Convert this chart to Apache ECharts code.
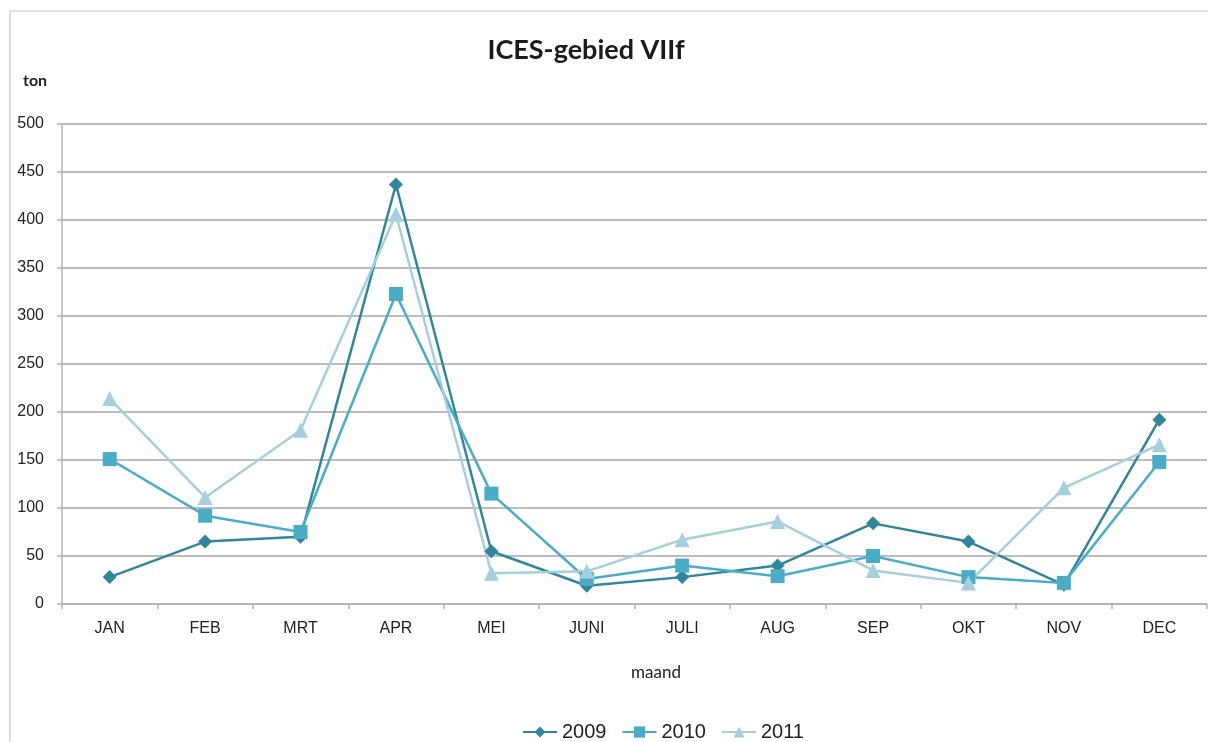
<!DOCTYPE html>
<html>
<head>
<meta charset="utf-8">
<script src="https://cdn.jsdelivr.net/npm/echarts@6/dist/echarts.min.js"></script>
<style>
  html, body { margin: 0; padding: 0; background: #ffffff; }
  #chart { width: 1208px; height: 742px; }
</style>
</head>
<body>
<div id="chart"></div>
<script>
// Monthly landings (ton) for ICES area VIIf
const months = ['JAN', 'FEB', 'MRT', 'APR', 'MEI', 'JUNI', 'JULI', 'AUG', 'SEP', 'OKT', 'NOV', 'DEC'];
const values2009 = [28, 65, 70, 437, 55, 19, 28, 40, 84, 65, 20, 192];
const values2010 = [151, 92, 75, 323, 115, 26, 40, 29, 50, 28, 22, 148];
const values2011 = [214, 111, 181, 406, 32, 34, 67, 86, 35, 22, 121, 166];
const yTicks = [0, 50, 100, 150, 200, 250, 300, 350, 400, 450, 500];

const labelFont = "'Liberation Sans', Arial, sans-serif";
const titleFont = "Lato, 'Open Sans', sans-serif";

const chart = echarts.init(document.getElementById('chart'), null, { renderer: 'canvas' });

function lineSeries(name, data, color, symbol, size) {
  return {
    name: name,
    type: 'line',
    data: data,
    symbol: symbol,
    symbolSize: size,
    showAllSymbol: true,
    lineStyle: { color: color, width: 2.5 },
    itemStyle: { color: color },
    emphasis: { disabled: true },
    animation: false,
    z: 3
  };
}

chart.setOption({
  backgroundColor: '#ffffff',
  animation: false,
  title: {
    text: 'ICES-gebied VIIf',
    left: 581,
    top: 32,
    textAlign: 'center',
    textStyle: { fontFamily: titleFont, fontWeight: 'bold', fontSize: 27, color: '#1a1a1a' }
  },
  grid: { left: 62, right: 1, top: 124, bottom: 138 },
  xAxis: {
    type: 'category',
    data: months,
    boundaryGap: true,
    axisLine: { lineStyle: { color: '#b3b3b3', width: 1.5 } },
    axisTick: { show: true, length: 5, lineStyle: { color: '#b3b3b3', width: 1.5 } },
    axisLabel: { fontFamily: labelFont, fontSize: 16, color: '#222', margin: 17 }
  },
  yAxis: {
    type: 'value',
    min: yTicks[0],
    max: yTicks[yTicks.length - 1],
    interval: yTicks[1] - yTicks[0],
    axisLine: { show: true, lineStyle: { color: '#b3b3b3', width: 1.5 } },
    axisTick: { show: true, length: 5, lineStyle: { color: '#b3b3b3', width: 1.5 } },
    splitLine: { lineStyle: { color: '#bdbdbd', width: 2 } },
    axisLabel: { fontFamily: labelFont, fontSize: 16, color: '#222', margin: 18 }
  },
  legend: {
    left: 517,
    top: 717,
    itemWidth: 34,
    itemHeight: 14,
    itemGap: 15,
    textStyle: { fontFamily: labelFont, fontSize: 20, color: '#222' },
    data: ['2009', '2010', '2011']
  },
  graphic: [
    {
      type: 'rect',
      shape: { x: 10, y: 11, width: 1210, height: 760 },
      style: { fill: 'none', stroke: '#d4d4d4', lineWidth: 1.5 },
      silent: true,
      z: -1
    },
    {
      type: 'text',
      left: 23,
      top: 73,
      style: { text: 'ton', fontFamily: titleFont, fontWeight: 'bold', fontSize: 16, fill: '#222' }
    },
    {
      type: 'text',
      x: 656,
      y: 673,
      style: { text: 'maand', fontFamily: titleFont, fontSize: 17, fill: '#222', textAlign: 'center', textVerticalAlign: 'middle' }
    }
  ],
  series: [
    lineSeries('2009', values2009, '#31859c', 'diamond', 14),
    lineSeries('2010', values2010, '#4bacc6', 'rect', 14),
    lineSeries('2011', values2011, '#a5cfdd', 'triangle', 15)
  ]
});
</script>
</body>
</html>
